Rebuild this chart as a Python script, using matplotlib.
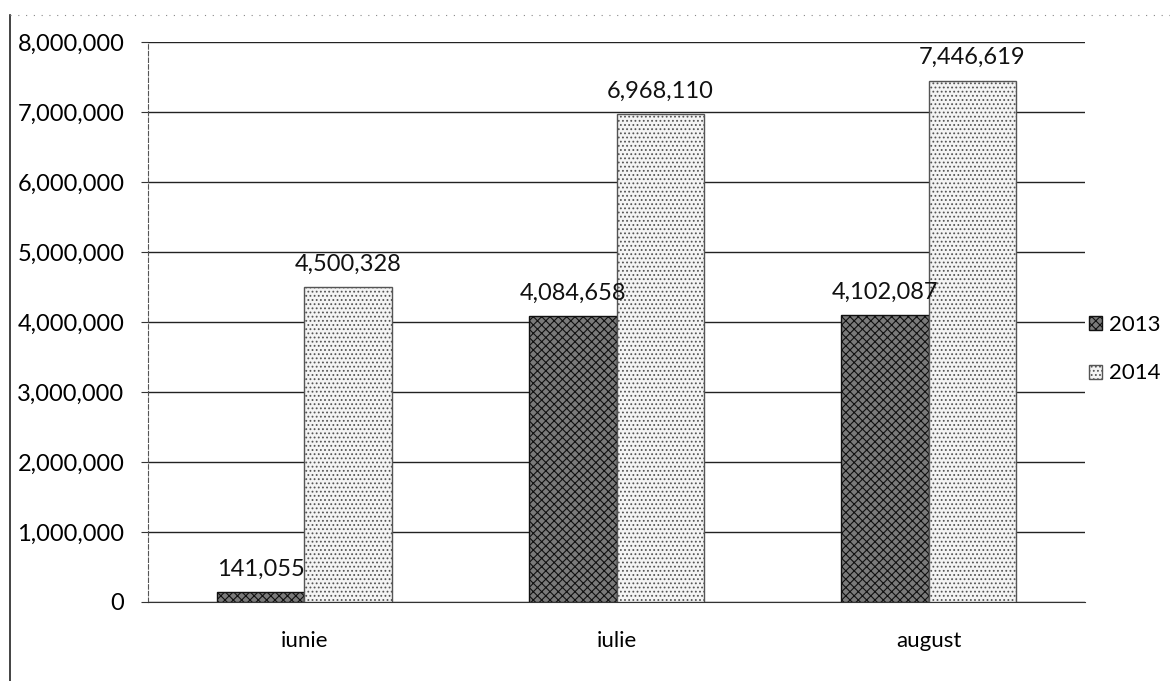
import numpy
from matplotlib import pyplot
from matplotlib.ticker import FuncFormatter
from matplotlib.lines import Line2D

# monthly totals
months = ['iunie', 'iulie', 'august']
years = ['2013', '2014']
vals_2013 = [141055, 4084658, 4102087]
vals_2014 = [4500328, 6968110, 7446619]
y_ticks = [0, 1000000, 2000000, 3000000, 4000000, 5000000, 6000000, 7000000, 8000000]

pyplot.rcParams['font.family'] = ['Lato', 'DejaVu Sans']
pyplot.rcParams['hatch.linewidth'] = 0.8

fig = pyplot.figure(figsize=(11.7, 6.81), dpi=100)
ax = fig.add_axes([148 / 1170, 1 - 602 / 681, (1085 - 148) / 1170, (602 - 42) / 681])

x = numpy.arange(len(months))
w = 0.28
b1 = ax.bar(x - w / 2, vals_2013, w, facecolor='#7a7a7a', edgecolor='#111111',
            hatch='xxxx', linewidth=1.0, label=years[0], zorder=3)
b2 = ax.bar(x + w / 2, vals_2014, w, facecolor='#f4f4f4', edgecolor='#555555',
            hatch='....', linewidth=1.0, label=years[1], zorder=3)

for bars, vals in ((b1, vals_2013), (b2, vals_2014)):
    for rect, v in zip(bars, vals):
        ax.annotate('{:,}'.format(v), (rect.get_x() + rect.get_width() / 2, v),
                    xytext=(0, 9), textcoords='offset points',
                    ha='center', va='bottom', fontsize=17, color='#111111')

ax.set_xlim(-0.5, 2.5)
ax.set_ylim(0, 8000000)
ax.set_yticks(y_ticks)
ax.yaxis.set_major_formatter(FuncFormatter(lambda v, p: '{:,}'.format(int(v))))
ax.set_xticks(x)
ax.set_xticklabels(months)
ax.tick_params(axis='y', direction='out', length=5, pad=12, labelsize=17, color='#333333')
ax.tick_params(axis='x', length=0, pad=21, labelsize=16)

ax.grid(axis='y', color='#222222', linewidth=1.0, zorder=0)
for s in ['top', 'right']:
    ax.spines[s].set_visible(False)
ax.spines['left'].set_color('#555555')
ax.spines['left'].set_linestyle((0, (4, 2)))
ax.spines['bottom'].set_color('#333333')

# legend on the right, square swatches
leg = fig.legend(handles=[b1, b2], labels=years, loc='center left',
                 bbox_to_anchor=(1078 / 1170, 1 - 349 / 681), frameon=False,
                 fontsize=16, handlelength=0.6, handleheight=0.6,
                 handletextpad=0.3, labelspacing=1.3, borderpad=0)

# outer chart frame
fig.add_artist(Line2D([10 / 1170, 10 / 1170], [0, 1 - 15 / 681], color='#222222', linewidth=1.2))
fig.add_artist(Line2D([10 / 1170, 1], [1 - 15 / 681, 1 - 15 / 681], color='#888888',
                      linewidth=0.8, linestyle=(0, (1, 6))))

pyplot.savefig('out.png', dpi=100)
